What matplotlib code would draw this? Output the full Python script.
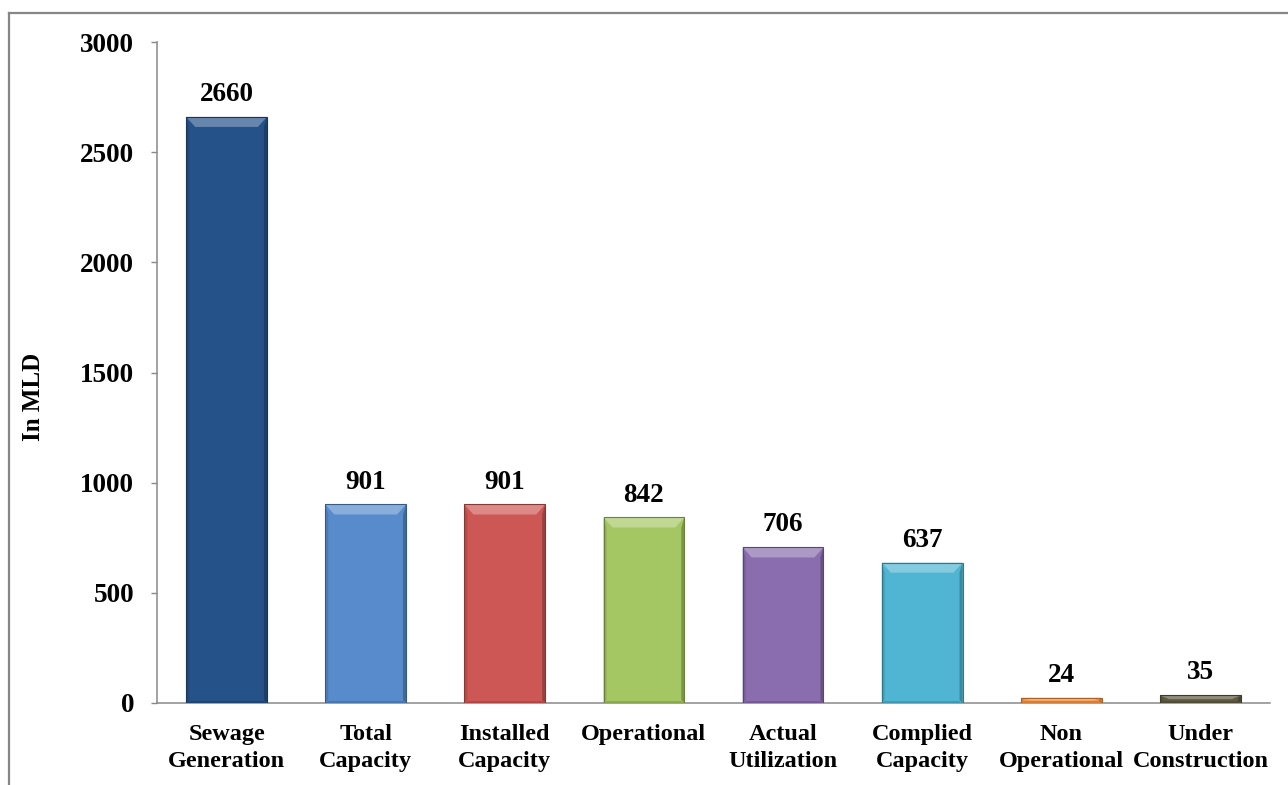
import numpy as np
import matplotlib
matplotlib.use("Agg")
import matplotlib.pyplot as plt
from matplotlib.patches import Polygon
from matplotlib.lines import Line2D
import matplotlib.colors as mcolors

# data
categories = ["Sewage\nGeneration", "Total\nCapacity", "Installed\nCapacity", "Operational",
              "Actual\nUtilization", "Complied\nCapacity", "Non\nOperational", "Under\nConstruction"]
values = [2660, 901, 901, 842, 706, 637, 24, 35]
colors = ["#26528A", "#588BCB", "#CD5755", "#A5C763", "#8A6DAE", "#50B5D3", "#F79646", "#5F5B43"]
yticks = [0, 500, 1000, 1500, 2000, 2500, 3000]

plt.rcParams['font.family'] = ['Liberation Serif', 'DejaVu Serif']
plt.rcParams['font.weight'] = 'bold'

W, H = 1288, 785
fig = plt.figure(figsize=(W / 100, H / 100), dpi=100)
ax = fig.add_axes([157 / W, 1 - 703 / H, 1113 / W, 661 / H])

x = np.arange(len(values))
bar_w = 0.58
bars = ax.bar(x, values, width=bar_w, color=colors, zorder=2)

ax.set_xlim(-0.5, len(values) - 0.5)
ax.set_ylim(0, 3000)

# pixel -> data scale for the bevel effect
px_x = (len(values)) / 1113
px_y = 3000 / 661


def shade(c, f):
    r, g, b = mcolors.to_rgb(c)
    if f > 0:
        return (r + (1 - r) * f, g + (1 - g) * f, b + (1 - b) * f)
    return (r * (1 + f), g * (1 + f), b * (1 + f))


for b, c in zip(bars, colors):
    x0, w, h = b.get_x(), b.get_width(), b.get_height()
    bx = 9 * px_x
    by = min(10 * px_y, h / 2)
    sx = 3 * px_x
    # top bevel (lighter)
    ax.add_patch(Polygon([(x0, h), (x0 + w, h), (x0 + w - bx, h - by), (x0 + bx, h - by)],
                         closed=True, fc=shade(c, 0.3), ec='none', zorder=3))
    # left / right edges (darker)
    ax.add_patch(Polygon([(x0, 0), (x0, h), (x0 + sx, h - by), (x0 + sx, by * 0.3)],
                         closed=True, fc=shade(c, -0.12), ec='none', zorder=3))
    ax.add_patch(Polygon([(x0 + w, 0), (x0 + w, h), (x0 + w - sx, h - by), (x0 + w - sx, by * 0.3)],
                         closed=True, fc=shade(c, -0.25), ec='none', zorder=3))
    # bottom bevel
    ax.add_patch(Polygon([(x0, 0), (x0 + w, 0), (x0 + w - sx, 2 * px_y), (x0 + sx, 2 * px_y)],
                         closed=True, fc=shade(c, -0.15), ec='none', zorder=3))
    # outline
    ax.add_patch(Polygon([(x0, 0), (x0, h), (x0 + w, h), (x0 + w, 0)], closed=True,
                         fc='none', ec=shade(c, -0.35), lw=0.8, zorder=4))
    ax.annotate(f"{int(h)}", (x0 + w / 2, h), xytext=(0, 11.5), textcoords='offset points',
                ha='center', va='baseline', fontsize=19.5, fontweight='bold')

ax.set_yticks(yticks)
ax.set_yticklabels([str(t) for t in yticks], fontsize=19.5, fontweight='bold')
ax.set_xticks(x)
ax.set_xticklabels(categories, fontsize=17.5, fontweight='bold', linespacing=1.4)
ax.tick_params(axis='y', length=4.5, width=1, color='#898989', pad=12)
ax.tick_params(axis='x', length=0, pad=15)

for s in ['top', 'right']:
    ax.spines[s].set_visible(False)
for s in ['left', 'bottom']:
    ax.spines[s].set_color('#898989')
    ax.spines[s].set_linewidth(1.1)

fig.text(33 / W, 1 - 397 / H, "In MLD", rotation=90, ha='center', va='center',
         fontsize=18, fontweight='bold')

# outer chart border (cut off at right and bottom in the reference)
fig.add_artist(Line2D([9 / W, 1], [1 - 13 / H, 1 - 13 / H], color='#868686', lw=1.6))
fig.add_artist(Line2D([9 / W, 9 / W], [0, 1 - 13 / H], color='#868686', lw=1.6))

fig.savefig("out.png", dpi=100)
